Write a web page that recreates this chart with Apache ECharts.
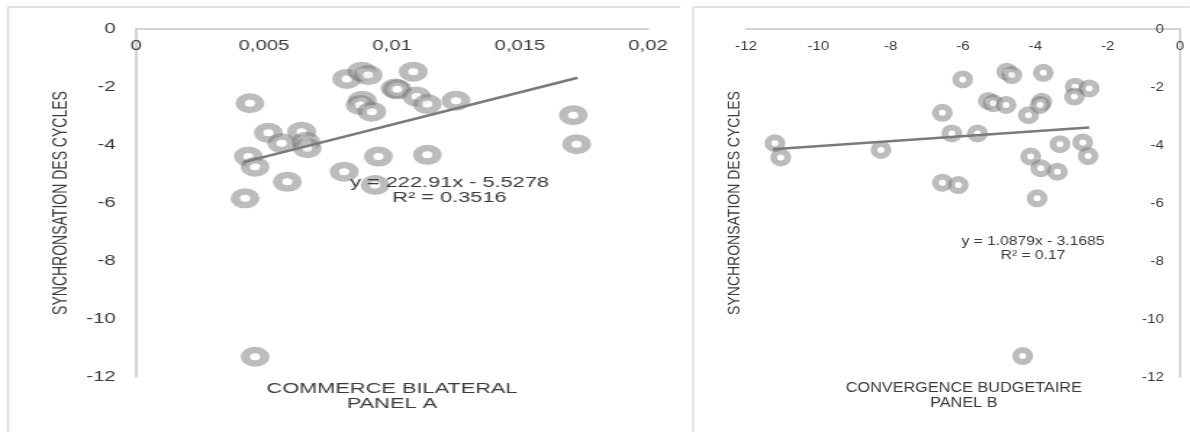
<!DOCTYPE html>
<html>
<head>
<meta charset="utf-8">
<script src="https://cdn.jsdelivr.net/npm/echarts@6/dist/echarts.min.js"></script>
<style>
  html, body { margin: 0; padding: 0; background: #fff; width: 1190px; height: 432px; overflow: hidden; }
  #panelA, #panelB { position: absolute; top: 0; height: 432px; transform-origin: 0 0; }
  /* both panels are drawn narrow and widened horizontally */
  #panelA { left: 0; width: 473px; transform: scaleX(1.45); }
  #panelB { left: 686px; width: 435px; transform: scaleX(1.16); filter: blur(0.5px); }
</style>
</head>
<body>
<div id="panelA"></div>
<div id="panelB"></div>
<script>
// ---- Panel A: bilateral trade vs. cycle synchronisation ----
const commerceX = [0.00445, 0.00517, 0.00569, 0.00647, 0.00664, 0.00669, 0.00439, 0.00465, 0.00591, 0.00426,
                   0.00813, 0.00947, 0.01138, 0.00934, 0.00823, 0.00882, 0.00907, 0.01083, 0.01012, 0.01021,
                   0.01096, 0.01138, 0.0125, 0.00884, 0.00875, 0.00921, 0.01708, 0.01721, 0.00465];
const syncA     = [-2.56, -3.58, -3.94, -3.54, -3.89, -4.11, -4.40, -4.75, -5.27, -5.84,
                   -4.92, -4.40, -4.34, -5.38, -1.72, -1.47, -1.59, -1.47, -2.05, -2.08,
                   -2.33, -2.59, -2.47, -2.47, -2.62, -2.85, -2.97, -3.97, -11.30];
const trendASlope = 222.91;
const trendAIntercept = -5.5278;
const trendARangeX = [0.0042, 0.01725];
const xTicksA = ['0', '0,005', '0,01', '0,015', '0,02'];
const yTicks = ['-12', '-10', '-8', '-6', '-4', '-2', '0'];

// ---- Panel B: budget convergence vs. cycle synchronisation ----
const budgetX = [-6.01, -6.57, -6.31, -5.60, -11.20, -11.04, -8.27, -6.57, -6.13,
                 -4.79, -4.65, -3.78, -5.30, -5.16, -4.81, -4.19, -3.82, -3.87, -2.90, -2.51, -2.92,
                 -3.32, -2.69, -2.54, -4.13, -3.85, -3.39, -3.95, -4.35];
const syncB   = [-1.74, -2.89, -3.60, -3.60, -3.94, -4.43, -4.17, -5.30, -5.38,
                 -1.47, -1.59, -1.51, -2.48, -2.56, -2.62, -2.97, -2.51, -2.62, -1.99, -2.05, -2.33,
                 -3.97, -3.91, -4.38, -4.40, -4.80, -4.92, -5.84, -11.28];
const trendBX = [-11.26, -2.51];
const trendBY = [-4.15, -3.40];
const xTicksB = ['-12', '-10', '-8', '-6', '-4', '-2', '0'];

const FONT = '"Liberation Sans", Arial, sans-serif';
const TEXT = '#3a3a3a';
const RING = 'rgba(119,119,119,0.62)';

// page x -> internal x for each widened panel
const SA = 1.45, SB = 1.16, OB = 686;
const ax = x => x / SA;
const bx = x => (x - OB) / SB;

function textEl(x, y, text, size, lh, rot) {
  return {
    type: 'text', x: x, y: y, rotation: rot || 0, z: 100,
    style: {
      text: text, fill: TEXT, fontSize: size, fontFamily: FONT, lineHeight: lh,
      align: 'center', verticalAlign: 'middle', textAlign: 'center', textVerticalAlign: 'middle'
    }
  };
}
function lineEl(x1, y1, x2, y2, w, c) {
  return { type: 'line', z: 0, shape: { x1: x1, y1: y1, x2: x2, y2: y2 }, style: { stroke: c, lineWidth: w } };
}

const chartA = echarts.init(document.getElementById('panelA'), null, { renderer: 'canvas' });
chartA.setOption({
  animation: false,
  backgroundColor: '#fff',
  grid: { left: ax(136), top: 29, width: ax(648) - ax(136), height: 348, containLabel: false, outerBoundsMode: 'none' },
  xAxis: {
    type: 'value', position: 'top', min: 0, max: 0.02, interval: 0.005,
    axisLine: { show: true, onZero: false, lineStyle: { color: '#d4d4d4', width: 2 } },
    axisTick: { show: false }, splitLine: { show: false },
    axisLabel: {
      inside: true, margin: 10, color: TEXT, fontSize: 14, fontFamily: FONT,
      formatter: v => xTicksA[Math.round(v / 0.005)]
    }
  },
  yAxis: {
    type: 'value', min: -12, max: 0, interval: 2,
    axisLine: { show: true, onZero: false, lineStyle: { color: '#c4c4c4', width: 1.5 } },
    axisTick: { show: false }, splitLine: { show: false },
    axisLabel: { margin: 14, color: TEXT, fontSize: 14, fontFamily: FONT,
      formatter: v => yTicks[Math.round((v + 12) / 2)] }
  },
  graphic: [
    lineEl(ax(8), 7, ax(8), 432, 1.4, '#d9d9d9'),
    lineEl(ax(8), 7, ax(680), 7, 1.5, '#d9d9d9'),
    textEl(ax(61), 203, 'SYNCHRONSATION DES CYCLES', 14, 16, Math.PI / 2),
    textEl(ax(392), 396, 'COMMERCE BILATERAL\nPANEL A', 15, 15),
    textEl(ax(449.5), 190.5, 'y = 222.91x - 5.5278\nR\u00b2 = 0.3516', 15, 15.6)
  ],
  series: [
    {
      type: 'scatter', z: 2,
      data: commerceX.map((x, i) => [x, syncA[i]]),
      symbol: 'circle', symbolSize: 13.5,
      itemStyle: { color: '#ffffff', borderColor: RING, borderWidth: 6.5 },
      emphasis: { disabled: true }
    },
    {
      type: 'line', z: 3, symbol: 'none',
      data: trendARangeX.map(x => [x, trendASlope * x + trendAIntercept]),
      lineStyle: { color: '#7a7a7a', width: 2.5 },
      emphasis: { disabled: true }
    }
  ]
});

const chartB = echarts.init(document.getElementById('panelB'), null, { renderer: 'canvas' });
chartB.setOption({
  animation: false,
  backgroundColor: '#fff',
  grid: { left: bx(746), top: 29, width: bx(1180) - bx(746), height: 348, containLabel: false, outerBoundsMode: 'none' },
  xAxis: {
    type: 'value', position: 'top', min: -12, max: 0, interval: 2,
    axisLine: { show: true, onZero: false, lineStyle: { color: '#d4d4d4', width: 2 } },
    axisTick: { show: false }, splitLine: { show: false },
    axisLabel: { inside: true, margin: 11, color: TEXT, fontSize: 13, fontFamily: FONT,
      formatter: v => xTicksB[Math.round((v + 12) / 2)] }
  },
  yAxis: {
    type: 'value', position: 'right', min: -12, max: 0, interval: 2,
    axisLine: { show: true, onZero: false, lineStyle: { color: '#c4c4c4', width: 1.5 } },
    axisTick: { show: false }, splitLine: { show: false },
    axisLabel: { inside: true, margin: 14, color: TEXT, fontSize: 13, fontFamily: FONT,
      formatter: v => yTicks[Math.round((v + 12) / 2)] }
  },
  graphic: [
    lineEl(bx(693), 7, bx(693), 432, 1.4, '#d9d9d9'),
    lineEl(bx(693), 7, bx(1190), 7, 1.5, '#d9d9d9'),
    textEl(bx(735), 203, 'SYNCHRONSATION DES CYCLES', 14, 16, Math.PI / 2),
    textEl(bx(963.8), 396, 'CONVERGENCE BUDGETAIRE\nPANEL B', 14, 15),
    textEl(bx(1033), 248, 'y = 1.0879x - 3.1685\nR\u00b2 = 0.17', 13.5, 14)
  ],
  series: [
    {
      type: 'scatter', z: 2,
      data: budgetX.map((x, i) => [x, syncB[i]]),
      symbol: 'circle', symbolSize: 12,
      itemStyle: { color: '#ffffff', borderColor: RING, borderWidth: 6 },
      emphasis: { disabled: true }
    },
    {
      type: 'line', z: 3, symbol: 'none',
      data: trendBX.map((x, i) => [x, trendBY[i]]),
      lineStyle: { color: '#7a7a7a', width: 2.5 },
      emphasis: { disabled: true }
    }
  ]
});
</script>
</body>
</html>
